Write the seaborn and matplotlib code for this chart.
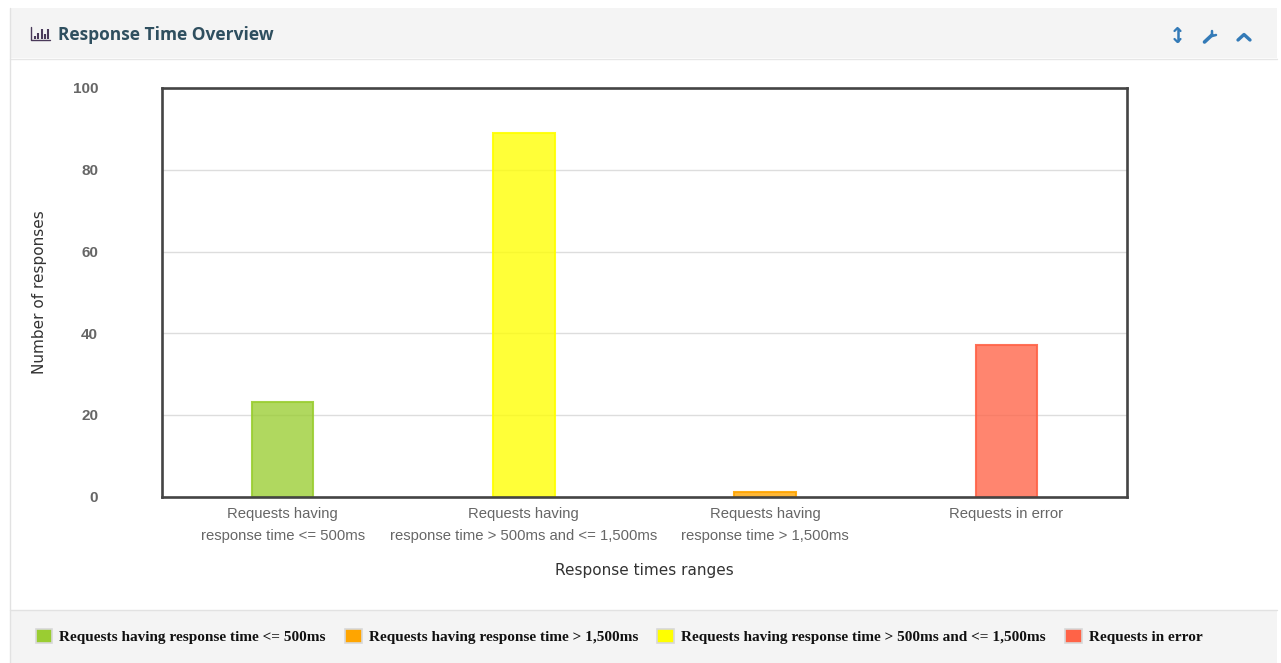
import matplotlib
matplotlib.use("Agg")
import matplotlib.pyplot as plt
from matplotlib.patches import Rectangle, Patch
from matplotlib.colors import to_rgba
from matplotlib.transforms import ScaledTranslation
import pandas as pd
import seaborn as sns

categories = ["Requests having\nresponse time <= 500ms",
              "Requests having\nresponse time > 500ms and <= 1,500ms",
              "Requests having\nresponse time > 1,500ms",
              "Requests in error"]
counts = [23.2, 89, 1.2, 37.2]
bar_colors = ["#9ACD32", "#FFFF00", "#FFA500", "#FF6347"]
yticks = [0, 20, 40, 60, 80, 100]
legend_labels = ["Requests having response time <= 500ms",
                 "Requests having response time > 1,500ms",
                 "Requests having response time > 500ms and <= 1,500ms",
                 "Requests in error"]
legend_colors = ["#9ACD32", "#FFA500", "#FFFF00", "#FF6347"]

W, H = 1281, 663
sns.set_style("white")
fig = plt.figure(figsize=(W / 100, H / 100), dpi=100, facecolor="white")

# page furniture in pixel coordinates
bg = fig.add_axes([0, 0, 1, 1], zorder=0)
bg.set_xlim(0, W)
bg.set_ylim(H, 0)
bg.axis("off")
bg.add_patch(Rectangle((10, 8), 1267, 50, fc="#F4F4F4", ec="none"))
bg.add_patch(Rectangle((10, 610), 1267, 53, fc="#F4F4F4", ec="none"))
bg.plot([10, 1277], [58.5, 58.5], color="#E6E6E6", lw=1)
bg.plot([10, 1277], [609.5, 609.5], color="#E2E2E2", lw=1)
bg.plot([10, 10], [8, 663], color="#E2E2E2", lw=1)
bg.text(58, 34.5, "Response Time Overview", family="Open Sans", weight="bold",
        fontsize=12.5, color="#2F4F5F", va="center", ha="left")
# header bar icon
icon = "#4A3A5A"
bg.plot([31, 31, 50], [27, 40, 40], color=icon, lw=1)
for x, top in zip([34.5, 38, 41.5, 45, 48], [36, 33, 29, 34, 29]):
    bg.plot([x, x], [39, top], color=icon, lw=1.5, solid_capstyle="butt")
# header tool icons
blue = "#337AB7"
bg.plot([1177.5, 1177.5], [29, 41], color=blue, lw=1.8)
bg.plot([1174.5, 1177.5, 1180.5], [31, 28, 31], color=blue, lw=1.6)
bg.plot([1174.5, 1177.5, 1180.5], [39, 42, 39], color=blue, lw=1.6)
bg.plot([1204.5, 1212], [42, 35], color=blue, lw=2.6, solid_capstyle="round")
bg.plot([1212, 1212, 1216], [31, 36, 35], color=blue, lw=1.8)
bg.plot([1238, 1244, 1250], [40, 34.5, 40], color=blue, lw=2.4)

ax = fig.add_axes([162 / W, 1 - 497 / H, (1127 - 162) / W, (497 - 88) / H], zorder=1)
df = pd.DataFrame({"range": categories, "count": counts})
sns.barplot(data=df, x="range", y="count", hue="range", palette=bar_colors,
            saturation=1, width=0.254, legend=False, ax=ax, zorder=2)
for bar, c in zip(ax.patches, bar_colors):
    bar.set_facecolor(to_rgba(c, 0.78))
    bar.set_edgecolor(to_rgba(c, 0.9))
    bar.set_linewidth(1.5)

ax.set_xlim(-0.5, 3.5)
ax.set_ylim(0, 100)
ax.set_yticks(yticks)
ax.set_axisbelow(True)
ax.yaxis.grid(True, color="#DDDDDD", lw=1)
ax.xaxis.grid(False)
for s in ax.spines.values():
    s.set_visible(True)
    s.set_color("#444444")
    s.set_linewidth(1.9)
ax.tick_params(axis="both", length=0)
ax.tick_params(axis="x", pad=7.5)
ax.tick_params(axis="y", pad=46)
for t in ax.get_xticklabels():
    t.set(family="Liberation Sans", fontsize=10.7, color="#666666", linespacing=1.7,
          va="top")
shift = ScaledTranslation(0, 0.2 / 72, fig.dpi_scale_trans)
for t in ax.get_yticklabels():
    t.set(family="Liberation Sans", fontsize=11, color="#666666", weight="bold", ha="right")
    t.set_transform(t.get_transform() + shift)
ax.set_xlabel("Response times ranges", family="DejaVu Sans", fontsize=11,
              color="#333333", va="center")
ax.xaxis.set_label_coords(0.5, (497 - 570) / (497 - 88))
ax.set_ylabel("Number of responses", family="DejaVu Sans", fontsize=11,
              color="#333333")
ax.yaxis.set_label_coords((47 - 162) / (1127 - 162), 0.5)

handles = [Patch(facecolor=c, edgecolor="#D8D8D8", linewidth=1.2) for c in legend_colors]
leg = fig.legend(handles, legend_labels, ncols=4, loc="center left",
                 bbox_to_anchor=(35.5 / W, 1 - 636.5 / H), frameon=False,
                 prop={"family": "Liberation Serif", "weight": "bold", "size": 10.95},
                 handlelength=1.1, handleheight=1.1, handletextpad=0.45,
                 columnspacing=1.28, borderpad=0, borderaxespad=0, labelcolor="#111111")

fig.savefig("out.png", dpi=100)
